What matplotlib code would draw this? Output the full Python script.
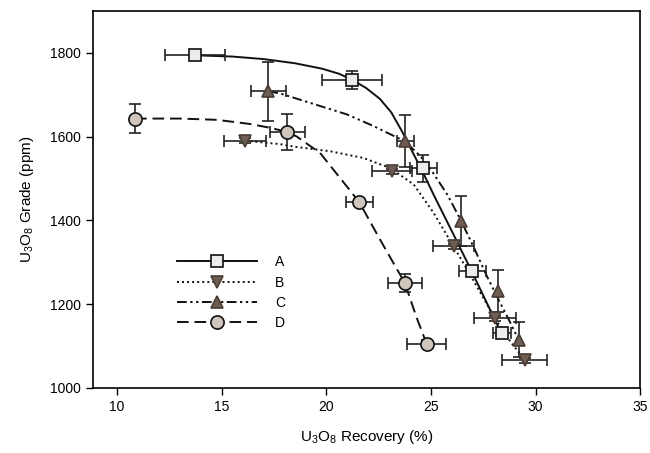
import matplotlib
matplotlib.use("Agg")
import matplotlib.pyplot as plt
from matplotlib.lines import Line2D

plt.rcParams['font.family'] = ['Liberation Sans', 'DejaVu Sans']
plt.rcParams['mathtext.fontset'] = 'custom'
plt.rcParams['mathtext.rm'] = 'Liberation Sans'
plt.rcParams['mathtext.it'] = 'Liberation Sans:italic'

# ---- data ----
labels = ["A", "B", "C", "D"]

a_x = [13.73, 21.22, 24.64, 26.97, 28.39]
a_y = [1794, 1735, 1524, 1279, 1131]
a_xerr = [1.43, 1.44, 0.65, 0.64, 0.43]
a_yerr = [8, 22, 33, 8, 8]

b_x = [16.13, 23.13, 26.08, 28.04, 29.48]
b_y = [1590, 1517, 1338, 1166, 1066]
b_xerr = [1.0, 0.96, 0.97, 1.0, 1.08]
b_yerr = [6, 6, 6, 6, 6]

c_x = [17.23, 23.77, 26.45, 28.19, 29.19]
c_y = [1708, 1590, 1398, 1232, 1115]
c_xerr = [0.84, 0.4, 0.0, 0.0, 0.0]
c_yerr = [70, 62, 60, 50, 42]

d_x = [10.86, 18.14, 21.58, 23.75, 24.79]
d_y = [1643, 1611, 1443, 1251, 1106]
d_xerr = [0.0, 0.84, 0.64, 0.82, 0.92]
d_yerr = [35, 44, 8, 21, 8]

# fitted curves
a_cx = [13.73, 15.5, 17.0, 18.5, 19.8, 20.6, 21.22, 21.9, 22.56, 23.1, 23.6, 24.1, 24.64, 25.12, 26.08, 26.97, 28.39]
a_cy = [1794, 1791, 1785, 1775, 1762, 1750, 1736, 1716, 1690, 1658, 1614, 1565, 1512, 1462, 1366, 1276, 1128]

b_cx = [16.13, 17.79, 18.59, 20.18, 21.77, 23.05, 24.17, 25.1, 26.08, 27.05, 28.04, 28.8, 29.48]
b_cy = [1590, 1582, 1575, 1565, 1549, 1525, 1486, 1420, 1338, 1255, 1168, 1110, 1068]

c_cx = [17.23, 17.79, 19.38, 20.98, 22.26, 23.29, 23.77, 24.5, 25.12, 25.8, 26.45, 27.1, 27.67, 28.19, 28.7, 29.19]
c_cy = [1708, 1703, 1678, 1653, 1625, 1600, 1588, 1553, 1512, 1460, 1398, 1330, 1267, 1215, 1165, 1115]

d_cx = [10.86, 13.0, 14.77, 16.36, 17.31, 18.14, 18.59, 19.7, 20.98, 21.58, 22.57, 23.21, 23.75, 24.3, 24.79]
d_cy = [1643, 1643, 1640, 1630, 1621, 1611, 1600, 1561, 1481, 1443, 1354, 1298, 1251, 1170, 1106]

xticks = [10, 15, 20, 25, 30, 35]
yticks = [1000, 1200, 1400, 1600, 1800]

# ---- styles ----
styles = {
    "A": dict(ls='-', marker='s', mfc='#ececec', mec='#111111', ms=8.0),
    "B": dict(ls=(0, (1.0, 1.6)), marker='v', mfc='#6e5d52', mec='#4a3d35', ms=9.0),
    "C": dict(ls=(0, (5, 1.8, 1.2, 1.8, 1.2, 1.8)), marker='^', mfc='#6e5d52', mec='#4a3d35', ms=9.0),
    "D": dict(ls=(0, (6, 3)), marker='o', mfc='#cfc6bd', mec='#111111', ms=9.5),
}

fig = plt.figure(figsize=(6.5, 4.53), dpi=100)
ax = fig.add_axes([0.143, 0.1435, 0.842, 0.8325])

series = [
    ("A", a_x, a_y, a_xerr, a_yerr, a_cx, a_cy),
    ("B", b_x, b_y, b_xerr, b_yerr, b_cx, b_cy),
    ("C", c_x, c_y, c_xerr, c_yerr, c_cx, c_cy),
    ("D", d_x, d_y, d_xerr, d_yerr, d_cx, d_cy),
]

for name, x, y, xe, ye, cx, cy in series:
    st = styles[name]
    ax.plot(cx, cy, color='#111111', lw=1.4, ls=st['ls'], zorder=2)
    ax.errorbar(x, y, xerr=xe, yerr=ye, fmt='none', ecolor='#222222',
                elinewidth=1.2, capsize=4, capthick=1.2, zorder=3)
    ax.plot(x, y, ls='none', marker=st['marker'], ms=st['ms'],
            mfc=st['mfc'], mec=st['mec'], mew=1.2, zorder=4)

handles = []
for name in labels:
    st = styles[name]
    handles.append(Line2D([0], [0], color='#111111', lw=1.4, ls=st['ls'],
                          marker=st['marker'], ms=st['ms'], mfc=st['mfc'],
                          mec=st['mec'], mew=1.2))
leg = ax.legend(handles, labels, loc='upper left', bbox_to_anchor=(0.13, 0.385),
                frameon=False, handlelength=5.8, handletextpad=1.3,
                labelspacing=0.45, fontsize=10)

ax.set_xlim(8.85, 35)
ax.set_ylim(1000, 1900)
ax.set_xticks(xticks)
ax.set_yticks(yticks)
ax.tick_params(direction='out', length=5, width=1, labelsize=10, top=False, right=False)
for sp in ax.spines.values():
    sp.set_linewidth(1.2)

ax.set_xlabel('U$_\\mathregular{3}$O$_\\mathregular{8}$ Recovery (%)', fontsize=11, labelpad=10)
ax.set_ylabel('U$_\\mathregular{3}$O$_\\mathregular{8}$ Grade (ppm)', fontsize=11, labelpad=10)

fig.savefig('out.png', dpi=100)
